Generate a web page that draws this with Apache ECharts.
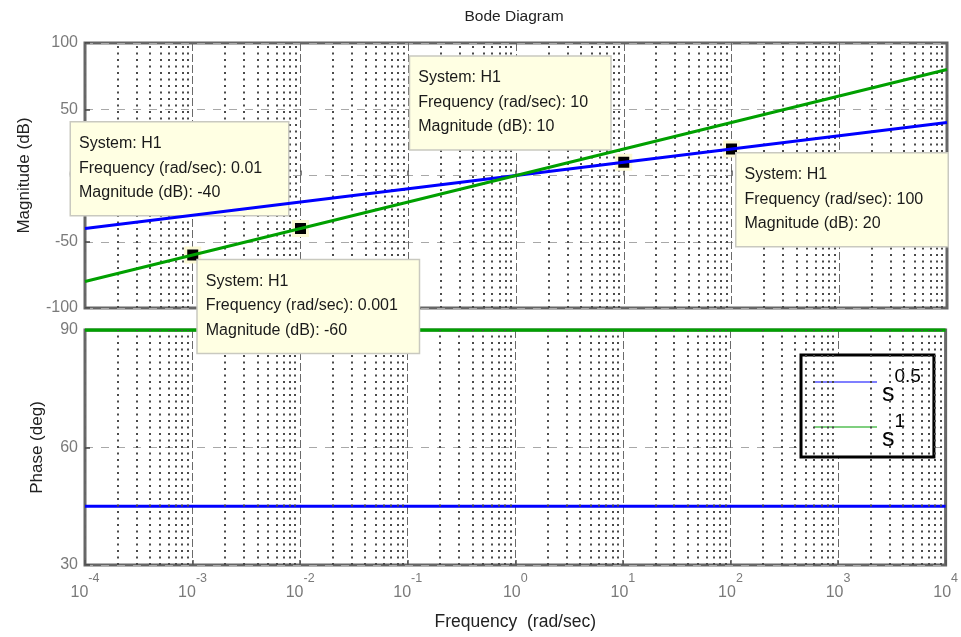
<!DOCTYPE html>
<html>
<head>
<meta charset="utf-8">
<script src="https://cdn.jsdelivr.net/npm/echarts@6/dist/echarts.min.js"></script>
<style>
html, body { margin: 0; padding: 0; background: #fff; }
#chart { width: 961px; height: 637px; }
</style>
</head>
<body>
<div id="chart"></div>
<script>
// Frequency points (rad/sec), one per decade
const freq = [1e-4, 1e-3, 1e-2, 1e-1, 1, 10, 100, 1000, 10000];
// Magnitude (dB) of s^0.5 and s^1
const magHalf = [-40, -30, -20, -10, 0, 10, 20, 30, 40];
const magOne = [-80, -60, -40, -20, 0, 20, 40, 60, 80];
// Phase (deg) of s^0.5 and s^1
const phaseHalf = [45, 45, 45, 45, 45, 45, 45, 45, 45];
const phaseOne = [90, 90, 90, 90, 90, 90, 90, 90, 90];
// Series names and the exponents shown in the legend
const seriesNames = ['s^0.5', 's^1'];
const seriesExp = ['0.5', '1'];
// Axis ranges
const magRange = [-100, 100];
const magStep = 50;
const phaseRange = [30, 90];
const phaseStep = 30;
const freqRange = [1e-4, 1e4];
// Minor grid multipliers within each decade
const minorSteps = [2, 3, 4, 5, 6, 7, 8, 9];
// Data tips: system index, frequency, magnitude
const tipSystem = [1, 1, 0, 0];
const tipFreq = [0.01, 0.001, 10, 100];
const tipMag = [-40, -60, 10, 20];

// Placement of each data tip box relative to its marker
const tipLayout = [
  { pos: [-221, -97.5], w: 218 },
  { pos: [13.5, 13.7], w: 222 },
  { pos: [-205, -97], w: 201 },
  { pos: [13.5, 13], w: 212 }
];

const FONT = "Arial, 'Liberation Sans', Helvetica, sans-serif";
const colors = ['#0000ff', '#00a000'];

const pairs = (ys) => freq.map((f, i) => [f, ys[i]]);

// Decade-internal grid positions
const minorFreqs = [];
const e0 = Math.round(Math.log10(freqRange[0]));
const e1 = Math.round(Math.log10(freqRange[1]));
for (let e = e0; e < e1; e++) {
  minorSteps.forEach(m => minorFreqs.push(m * Math.pow(10, e)));
}

function tipMarks(sys) {
  const out = [];
  tipFreq.forEach((f, i) => {
    if (tipSystem[i] !== sys) return;
    const L = tipLayout[i];
    out.push({
      coord: [f, tipMag[i]],
      label: {
        show: true,
        position: L.pos,
        width: L.w - 19,
        formatter: 'System: H1\nFrequency (rad/sec): ' + f + '\nMagnitude (dB): ' + tipMag[i]
      }
    });
  });
  return out;
}

const tipLabelStyle = {
  show: true,
  fontFamily: FONT,
  fontSize: 16,
  color: '#1a1a1a',
  lineHeight: 24.5,
  align: 'left',
  verticalAlign: 'top',
  backgroundColor: '#ffffe3',
  borderColor: '#c9c9c0',
  borderWidth: 1.5,
  padding: [9, 10, 10, 8]
};

// Dotted lines at 2..9 within every decade
function gridHelper(idx, yr) {
  return {
    type: 'line',
    xAxisIndex: idx,
    yAxisIndex: idx,
    data: [],
    silent: true,
    z: 1,
    markLine: {
      silent: true,
      symbol: ['none', 'none'],
      animation: false,
      label: { show: false },
      lineStyle: { type: [2, 4.5], color: '#4a4a4a', width: 2 },
      emphasis: { disabled: true },
      data: minorFreqs.map(v => [{ coord: [v, yr[0]] }, { coord: [v, yr[1]] }])
    }
  };
}

const expLabel = (v) => {
  const e = Math.round(Math.log10(v));
  return '{b|10}{s|' + e + '}';
};

const xCommon = {
  type: 'log',
  logBase: 10,
  min: freqRange[0],
  max: freqRange[1],
  interval: 1,
  axisLine: { show: false },
  axisTick: { show: true, inside: true, length: 5, lineStyle: { color: '#555', width: 1.5 } },
  splitLine: { show: true, lineStyle: { type: [8, 3], color: '#6a6a6a', width: 1 } }
};

const yCommon = {
  type: 'value',
  axisLine: { show: false },
  axisTick: { show: true, inside: true, length: 5, lineStyle: { color: '#444', width: 1.5 } },
  splitLine: { show: true, lineStyle: { type: [8, 8], color: '#a8a8a8', width: 1 } },
  axisLabel: { fontFamily: FONT, fontSize: 16, color: '#7a7a7a', margin: 7 },
  nameLocation: 'middle',
  nameTextStyle: { fontFamily: FONT, fontSize: 17, color: '#222' }
};

const option = {
  animation: false,
  backgroundColor: '#fff',
  title: {
    text: 'Bode Diagram',
    left: 514,
    textAlign: 'center',
    top: 8,
    padding: 0,
    textStyle: { fontFamily: FONT, fontSize: 15.5, fontWeight: 'normal', color: '#222', lineHeight: 17 }
  },
  grid: [
    { left: 85, right: 14, top: 43, height: 265, show: true, borderColor: '#666', borderWidth: 3, backgroundColor: 'transparent' },
    { left: 85, right: 14, top: 330, height: 235, show: true, borderColor: '#666', borderWidth: 3, backgroundColor: 'transparent' }
  ],
  xAxis: [
    Object.assign({}, xCommon, { gridIndex: 0, axisLabel: { show: false } }),
    Object.assign({}, xCommon, {
      gridIndex: 1,
      name: 'Frequency  (rad/sec)',
      nameLocation: 'middle',
      nameGap: 48,
      nameTextStyle: { fontFamily: FONT, fontSize: 17.5, color: '#222' },
      axisLabel: {
        show: true,
        margin: 7.5,
        formatter: expLabel,
        rich: {
          b: { fontFamily: FONT, fontSize: 16, lineHeight: 16, color: '#7a7a7a', padding: [12.3, 0, 0, 0], verticalAlign: 'top' },
          s: { fontFamily: FONT, fontSize: 12.5, lineHeight: 12, color: '#7a7a7a', verticalAlign: 'top' }
        }
      }
    })
  ],
  yAxis: [
    Object.assign({}, yCommon, { gridIndex: 0, min: magRange[0], max: magRange[1], interval: magStep, name: 'Magnitude (dB)', nameGap: 52.5 }),
    Object.assign({}, yCommon, { gridIndex: 1, min: phaseRange[0], max: phaseRange[1], interval: phaseStep, name: 'Phase (deg)', nameGap: 39.5 })
  ],
  legend: {
    data: seriesNames,
    orient: 'vertical',
    left: 801,
    top: 355,
    padding: [12, 13, 5.5, 13],
    itemGap: 5.5,
    itemWidth: 63,
    itemHeight: 1,
    icon: 'rect',
    borderColor: '#000',
    borderWidth: 3,
    borderRadius: 0,
    backgroundColor: '#fff',
    selectedMode: false,
    formatter: (name) => '{b|s}{s|' + seriesExp[seriesNames.indexOf(name)] + '}',
    textStyle: {
      fontFamily: FONT,
      color: '#000',
      rich: {
        b: { fontFamily: FONT, fontSize: 25, lineHeight: 30, color: '#000', padding: [14.5, 0, 0, 0], verticalAlign: 'top' },
        s: { fontFamily: FONT, fontSize: 19, lineHeight: 18, color: '#000', padding: [0, 0, 0, 0], verticalAlign: 'top' }
      }
    }
  },
  series: [
    gridHelper(0, magRange),
    gridHelper(1, phaseRange),
    {
      name: seriesNames[0], type: 'line', xAxisIndex: 1, yAxisIndex: 1,
      data: pairs(phaseHalf), showSymbol: false, symbol: 'none', z: 3,
      lineStyle: { color: colors[0], width: 3 }, itemStyle: { color: colors[0] }
    },
    {
      name: seriesNames[1], type: 'line', xAxisIndex: 1, yAxisIndex: 1,
      data: pairs(phaseOne), showSymbol: false, symbol: 'none', z: 3,
      lineStyle: { color: colors[1], width: 3.5 }, itemStyle: { color: colors[1] }
    },
    {
      name: seriesNames[0], type: 'line', xAxisIndex: 0, yAxisIndex: 0,
      data: pairs(magHalf), showSymbol: false, symbol: 'none', z: 10,
      lineStyle: { color: colors[0], width: 3 }, itemStyle: { color: colors[0] },
      markPoint: {
        symbol: 'rect', symbolSize: 14, animation: false, silent: true,
        itemStyle: { color: '#000', borderColor: '#fcf9d4', borderWidth: 3 },
        label: tipLabelStyle,
        data: tipMarks(0)
      }
    },
    {
      name: seriesNames[1], type: 'line', xAxisIndex: 0, yAxisIndex: 0,
      data: pairs(magOne), showSymbol: false, symbol: 'none', z: 10,
      lineStyle: { color: colors[1], width: 3 }, itemStyle: { color: colors[1] },
      markPoint: {
        symbol: 'rect', symbolSize: 14, animation: false, silent: true,
        itemStyle: { color: '#000', borderColor: '#fcf9d4', borderWidth: 3 },
        label: tipLabelStyle,
        data: tipMarks(1)
      }
    }
  ]
};

const chart = echarts.init(document.getElementById('chart'), null, { renderer: 'canvas' });
chart.setOption(option);
</script>
</body>
</html>
